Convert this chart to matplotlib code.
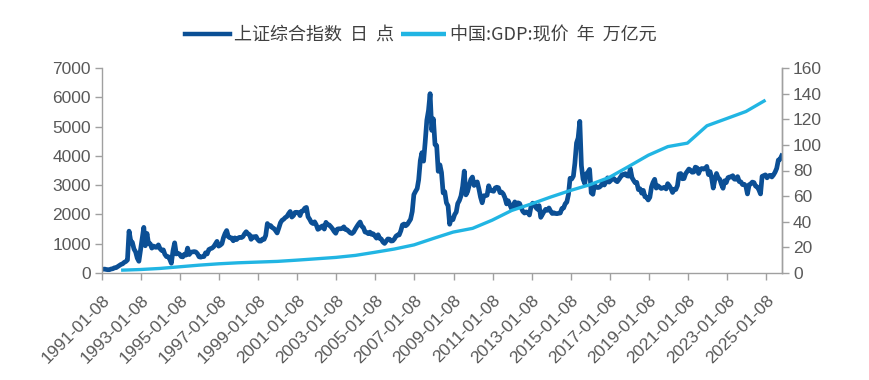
import matplotlib
matplotlib.use('Agg')
import matplotlib.pyplot as plt
import pandas as pd

plt.rcParams['font.family'] = ['Liberation Sans', 'Noto Sans CJK SC', 'DejaVu Sans']

# 上证综合指数 monthly representative values, 1991-01 .. 2025-10
sse_close = [
    129, 133, 120, 113, 114, 137, 145, 178, 181, 218, 259, 292,          # 1991
    313, 364, 391, 445, 1429, 1100, 1050, 820, 720, 510, 400, 780,      # 1992
    1150, 1558, 930, 1350, 1000, 1000, 850, 920, 880, 880, 960, 833,    # 1993
    770, 790, 640, 560, 560, 470, 333, 760, 1030, 650, 670, 648,        # 1994
    560, 550, 640, 610, 850, 630, 710, 720, 730, 720, 660, 555,         # 1995
    540, 560, 560, 690, 650, 800, 830, 850, 900, 990, 1080, 917,        # 1996
    950, 1000, 1200, 1350, 1450, 1240, 1200, 1200, 1100, 1200, 1140, 1194,  # 1997
    1220, 1210, 1240, 1340, 1410, 1340, 1310, 1150, 1240, 1220, 1250, 1147,  # 1998
    1090, 1090, 1160, 1150, 1280, 1690, 1600, 1620, 1550, 1520, 1450, 1367,  # 1999
    1535, 1715, 1800, 1836, 1894, 1928, 2023, 2100, 1910, 1960, 2070, 2073,  # 2000
    2065, 1960, 2110, 2120, 2214, 2240, 1920, 1834, 1724, 1690, 1748, 1646,  # 2001
    1490, 1524, 1580, 1610, 1500, 1730, 1650, 1640, 1580, 1510, 1420, 1357,  # 2002
    1500, 1510, 1510, 1520, 1576, 1487, 1476, 1421, 1367, 1348, 1397, 1497,  # 2003
    1590, 1675, 1741, 1595, 1555, 1400, 1386, 1342, 1396, 1320, 1340, 1266,  # 2004
    1191, 1306, 1181, 1159, 1060, 1010, 1083, 1162, 1155, 1092, 1099, 1161,  # 2005
    1258, 1299, 1298, 1440, 1641, 1672, 1612, 1658, 1752, 1837, 2099, 2675,  # 2006
    2786, 2881, 3183, 3841, 4109, 3820, 4471, 5218, 5552, 6124, 4871, 5262,  # 2007
    4383, 4349, 3473, 3693, 3433, 2736, 2776, 2397, 2293, 1664, 1871, 1821,  # 2008
    1991, 2082, 2373, 2477, 2633, 2959, 3478, 2668, 2779, 2996, 3195, 3277,  # 2009
    2989, 3051, 3110, 2871, 2592, 2398, 2638, 2639, 2656, 2979, 2820, 2808,  # 2010
    2791, 2905, 2928, 2911, 2743, 2762, 2701, 2568, 2359, 2468, 2333, 2199,  # 2011
    2292, 2428, 2263, 2396, 2373, 2225, 2103, 2047, 2086, 2069, 1980, 2269,  # 2012
    2385, 2365, 2237, 2178, 2300, 1900, 1994, 2098, 2175, 2141, 2220, 2116,  # 2013
    2033, 2056, 2033, 2026, 2039, 2048, 2202, 2217, 2364, 2420, 2683, 3234,  # 2014
    3210, 3310, 3748, 4441, 4612, 5178, 3664, 3206, 3053, 3383, 3445, 3539,  # 2015
    2738, 2688, 3004, 2938, 2917, 2930, 2979, 3085, 3005, 3100, 3250, 3104,  # 2016
    3159, 3242, 3223, 3155, 3117, 3192, 3273, 3361, 3349, 3393, 3317, 3307,  # 2017
    3560, 3259, 3169, 3082, 3095, 2847, 2876, 2725, 2821, 2603, 2588, 2494,  # 2018
    2585, 2941, 3091, 3200, 2899, 2979, 2933, 2886, 2905, 2929, 2871, 3050,  # 2019
    2977, 2880, 2750, 2860, 2852, 2985, 3380, 3396, 3218, 3225, 3392, 3473,  # 2020
    3550, 3509, 3441, 3447, 3615, 3591, 3397, 3544, 3568, 3547, 3564, 3640,  # 2021
    3361, 3462, 3252, 2900, 3186, 3399, 3253, 3202, 3024, 2893, 3151, 3089,  # 2022
    3255, 3280, 3273, 3323, 3205, 3202, 3291, 3120, 3110, 3018, 3030, 2975,  # 2023
    2700, 3015, 3041, 3105, 3087, 2967, 2939, 2842, 2700, 3300, 3326, 3351,  # 2024
    3250, 3321, 3336, 3279, 3347, 3444, 3573, 3858, 3883, 4000,              # 2025
]

# 中国:GDP:现价 (年, 万亿元)
gdp_years = list(range(1991, 2025))
gdp_value = [2.19, 2.72, 3.57, 4.86, 6.13, 7.18, 7.97, 8.52, 9.06, 10.03,
             11.09, 12.17, 13.74, 16.18, 18.73, 21.94, 27.01, 31.92, 34.85, 41.21,
             48.79, 53.86, 59.30, 64.36, 68.89, 74.64, 83.20, 91.93, 98.65, 101.36,
             114.92, 120.47, 126.06, 134.91]

tick_years = list(range(1991, 2026, 2))
left_ticks = [0, 1000, 2000, 3000, 4000, 5000, 6000, 7000]
right_ticks = [0, 20, 40, 60, 80, 100, 120, 140, 160]

legend_labels = ['上证综合指数  日  点', '中国:GDP:现价  年  万亿元']

sse_dates = pd.date_range('1991-01-01', periods=len(sse_close), freq='MS') + pd.Timedelta(days=27)
gdp_dates = pd.to_datetime([f'{y}-12-31' for y in gdp_years])
tick_dates = pd.to_datetime([f'{y}-01-08' for y in tick_years])

dark = '#0B4F95'
light = '#21B5E3'
spine_c = '#A0A0A0'
text_c = '#595959'

fig = plt.figure(figsize=(8.7, 3.8), dpi=100)
ax = fig.add_axes([102 / 870, 1 - 273 / 380, 680 / 870, 205 / 380])
ax2 = ax.twinx()

l1, = ax.plot(sse_dates, sse_close, color=dark, lw=3.4, solid_joinstyle='round')
l2, = ax2.plot(gdp_dates, gdp_value, color=light, lw=2.4, solid_capstyle='butt')

ax.set_xlim(pd.Timestamp('1991-01-08'), pd.Timestamp('2025-11-04'))
ax.set_ylim(0, 7000)
ax2.set_ylim(0, 160)
ax.set_yticks(left_ticks)
ax2.set_yticks(right_ticks)
ax.set_xticks(tick_dates)
ax.set_xticklabels([d.strftime('%Y-%m-%d') for d in tick_dates], rotation=45,
                   ha='right', rotation_mode='anchor')

for a in (ax, ax2):
    a.spines['top'].set_visible(False)
    for s in a.spines.values():
        s.set_color(spine_c)
        s.set_linewidth(1.0)
    a.tick_params(colors=spine_c, labelcolor=text_c, labelsize=12.5, length=5, width=1.0)
ax2.spines['left'].set_visible(False)
ax2.spines['bottom'].set_visible(False)
ax.tick_params(axis='x', pad=9)
ax.tick_params(axis='y', pad=3)
ax2.tick_params(axis='y', pad=3)

fig.legend([l1, l2], legend_labels, loc='center', bbox_to_anchor=(421 / 870, 1 - 35 / 380),
           ncol=2, frameon=False, handlelength=2.5, handletextpad=0.2, columnspacing=0.4,
           prop={'family': ['Noto Sans CJK SC'], 'size': 13}, labelcolor='#404040')
for h in fig.legends[0].legend_handles:
    h.set_linewidth(3.2)

fig.savefig('out.png', dpi=100, facecolor='white')
